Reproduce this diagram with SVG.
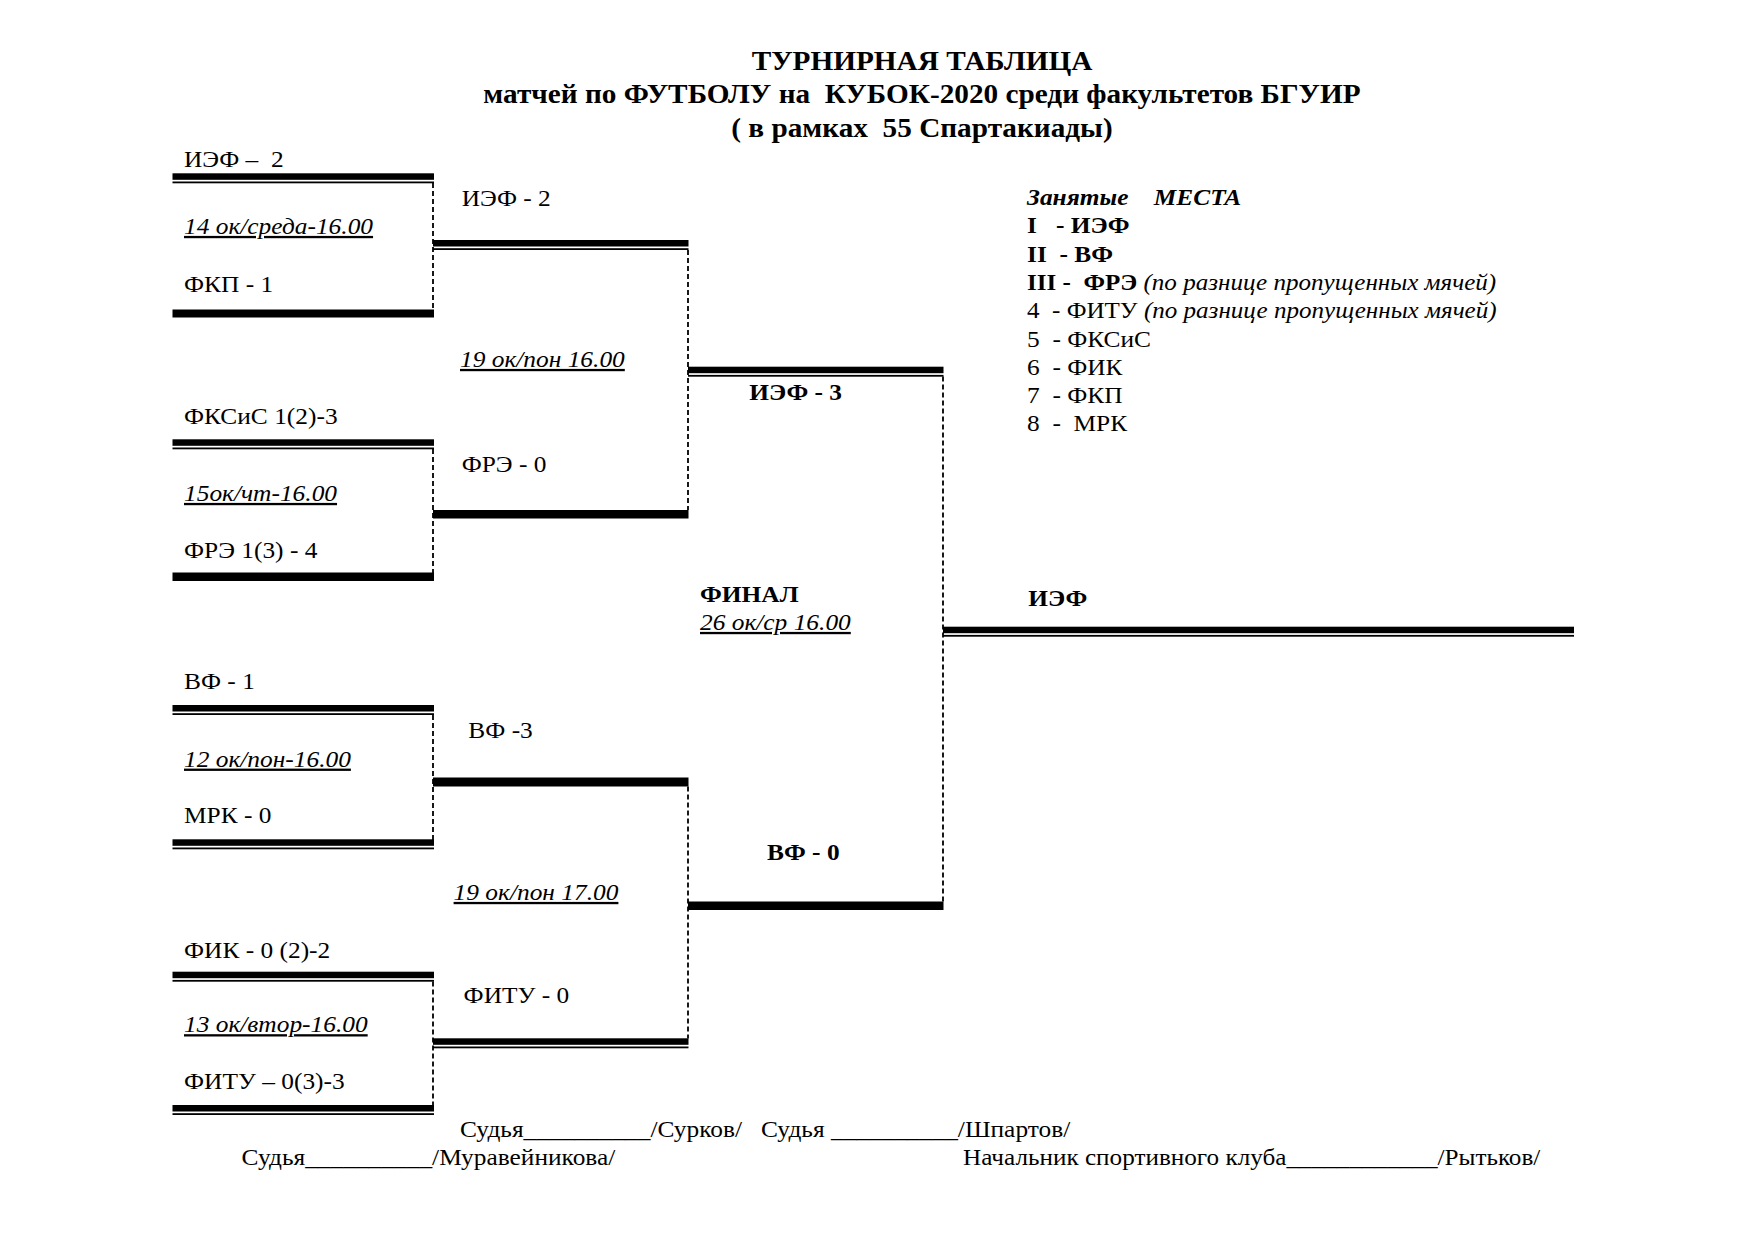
<svg xmlns="http://www.w3.org/2000/svg" width="1754" height="1240" viewBox="0 0 1754 1240" xml:space="preserve">
<style>
text { font-family: "Liberation Serif", "Times New Roman", serif; font-size: 23px; fill: #000; white-space: pre; }
.t { font-size: 27px; font-weight: bold; text-anchor: middle; }
.b { font-weight: bold; }
.i { font-style: italic; }
.u { text-decoration: underline; }
.bi { font-weight: bold; font-style: italic; }
.bar { fill: #000; }
.dash { stroke: #000; stroke-width: 1.8; stroke-dasharray: 5 3; fill: none; }
</style>
<rect x="0" y="0" width="1754" height="1240" fill="#fff"/>

<g id="title">
<text class="t" transform="matrix(1.084 0 0 1 922 69.5)">ТУРНИРНАЯ ТАБЛИЦА</text>
<text class="t" transform="matrix(1.084 0 0 1 922 103)">матчей по ФУТБОЛУ на  КУБОК-2020 среди факультетов БГУИР</text>
<text class="t" transform="matrix(1.084 0 0 1 922 136.5)">( в рамках  55 Спартакиады)</text>
</g>

<g id="connectors">
<!-- round 1 -->
<rect class="bar" x="172.5" y="173.3" width="261.5" height="6.5"/>
<rect class="bar" x="172.5" y="181.5" width="261.5" height="1.8"/>
<rect class="bar" x="172.5" y="309.5" width="261.5" height="8"/>
<line class="dash" x1="433" y1="183" x2="433" y2="310"/>

<rect class="bar" x="172.5" y="439.3" width="261.5" height="6.5"/>
<rect class="bar" x="172.5" y="447.5" width="261.5" height="1.8"/>
<rect class="bar" x="172.5" y="572.5" width="261.5" height="8.5"/>
<line class="dash" x1="433" y1="449" x2="433" y2="573"/>

<rect class="bar" x="172.5" y="705" width="261.5" height="6.5"/>
<rect class="bar" x="172.5" y="713.2" width="261.5" height="1.8"/>
<rect class="bar" x="172.5" y="839.3" width="261.5" height="6.5"/>
<rect class="bar" x="172.5" y="847.5" width="261.5" height="1.8"/>
<line class="dash" x1="433" y1="715" x2="433" y2="840"/>

<rect class="bar" x="172.5" y="971.7" width="261.5" height="6.5"/>
<rect class="bar" x="172.5" y="979.9" width="261.5" height="1.8"/>
<rect class="bar" x="172.5" y="1105" width="261.5" height="6.5"/>
<rect class="bar" x="172.5" y="1113.2" width="261.5" height="1.8"/>
<line class="dash" x1="433" y1="981.5" x2="433" y2="1105"/>

<!-- round 2 -->
<rect class="bar" x="433" y="240" width="255.5" height="6.5"/>
<rect class="bar" x="433" y="248.2" width="255.5" height="1.8"/>
<rect class="bar" x="433" y="510" width="255.5" height="8.5"/>
<line class="dash" x1="688" y1="250" x2="688" y2="510"/>

<rect class="bar" x="433" y="777.5" width="255.5" height="9"/>
<rect class="bar" x="433" y="1038.3" width="255.5" height="6.5"/>
<rect class="bar" x="433" y="1046.5" width="255.5" height="1.8"/>
<line class="dash" x1="688" y1="786.5" x2="688" y2="1038.5"/>

<!-- round 3 -->
<rect class="bar" x="688" y="366.7" width="255.5" height="6.5"/>
<rect class="bar" x="688" y="374.9" width="255.5" height="1.8"/>
<rect class="bar" x="688" y="901.5" width="255.5" height="8.5"/>
<line class="dash" x1="943" y1="376.5" x2="943" y2="902"/>

<!-- final -->
<rect class="bar" x="943" y="626.7" width="631" height="6.5"/>
<rect class="bar" x="943" y="634.9" width="631" height="1.8"/>
</g>

<g id="match1">
<text transform="matrix(1.104 0 0 1 184 166.7)">ИЭФ –  2</text>
<text class="i u" transform="matrix(1.104 0 0 1 184 234)">14 ок/среда-16.00</text>
<text transform="matrix(1.104 0 0 1 184 291.7)">ФКП - 1</text>
</g>
<g id="match2">
<text transform="matrix(1.104 0 0 1 184 424.3)">ФКСиС 1(2)-3</text>
<text class="i u" transform="matrix(1.104 0 0 1 184 501)">15ок/чт-16.00</text>
<text transform="matrix(1.104 0 0 1 184 557.7)">ФРЭ 1(3) - 4</text>
</g>
<g id="match3">
<text transform="matrix(1.104 0 0 1 184 689.3)">ВФ - 1</text>
<text class="i u" transform="matrix(1.104 0 0 1 184 766.7)">12 ок/пон-16.00</text>
<text transform="matrix(1.104 0 0 1 184 823.3)">МРК - 0</text>
</g>
<g id="match4">
<text transform="matrix(1.104 0 0 1 184 958.3)">ФИК - 0 (2)-2</text>
<text class="i u" transform="matrix(1.104 0 0 1 184 1032.3)">13 ок/втор-16.00</text>
<text transform="matrix(1.104 0 0 1 184 1089.3)">ФИТУ – 0(3)-3</text>
</g>
<g id="semifinal1">
<text transform="matrix(1.104 0 0 1 461.7 206)">ИЭФ - 2</text>
<text class="i u" transform="matrix(1.104 0 0 1 460 367)">19 ок/пон 16.00</text>
<text transform="matrix(1.104 0 0 1 461.7 471.7)">ФРЭ - 0</text>
</g>
<g id="semifinal2">
<text transform="matrix(1.104 0 0 1 468.3 738.3)">ВФ -3</text>
<text class="i u" transform="matrix(1.104 0 0 1 453.6 900)">19 ок/пон 17.00</text>
<text transform="matrix(1.104 0 0 1 463.6 1003.3)">ФИТУ - 0</text>
</g>
<g id="final">
<text class="b" transform="matrix(1.104 0 0 1 749.3 400)">ИЭФ - 3</text>
<text class="b" transform="matrix(1.104 0 0 1 700 601.7)">ФИНАЛ</text>
<text class="i u" transform="matrix(1.104 0 0 1 700 630)">26 ок/ср 16.00</text>
<text class="b" transform="matrix(1.104 0 0 1 767 860)">ВФ - 0</text>
</g>
<g id="winner">
<text class="b" transform="matrix(1.104 0 0 1 1028.3 606)">ИЭФ</text>
</g>
<g id="places">
<text class="bi" transform="matrix(1.104 0 0 1 1027 205)">Занятые    МЕСТА</text>
<text class="b" transform="matrix(1.104 0 0 1 1027 233.3)">I   - ИЭФ</text>
<text class="b" transform="matrix(1.104 0 0 1 1027 261.6)">II  - ВФ</text>
<text transform="matrix(1.09 0 0 1 1027 289.9)"><tspan class="b">III -  ФРЭ </tspan><tspan class="i">(по разнице пропущенных мячей)</tspan></text>
<text transform="matrix(1.09 0 0 1 1027 318.2)">4  - ФИТУ <tspan class="i">(по разнице пропущенных мячей)</tspan></text>
<text transform="matrix(1.104 0 0 1 1027 346.5)">5  - ФКСиС</text>
<text transform="matrix(1.104 0 0 1 1027 374.8)">6  - ФИК</text>
<text transform="matrix(1.104 0 0 1 1027 403.1)">7  - ФКП</text>
<text transform="matrix(1.104 0 0 1 1027 431.4)">8  -  МРК</text>
</g>
<g id="footer">
<text transform="matrix(1.104 0 0 1 460 1137)">Судья__________/Сурков/   Судья __________/Шпартов/</text>
<text transform="matrix(1.104 0 0 1 241.6 1165)">Судья__________/Муравейникова/</text>
<text transform="matrix(1.095 0 0 1 963 1165)">Начальник спортивного клуба____________/Рытьков/</text>
</g>
</svg>
